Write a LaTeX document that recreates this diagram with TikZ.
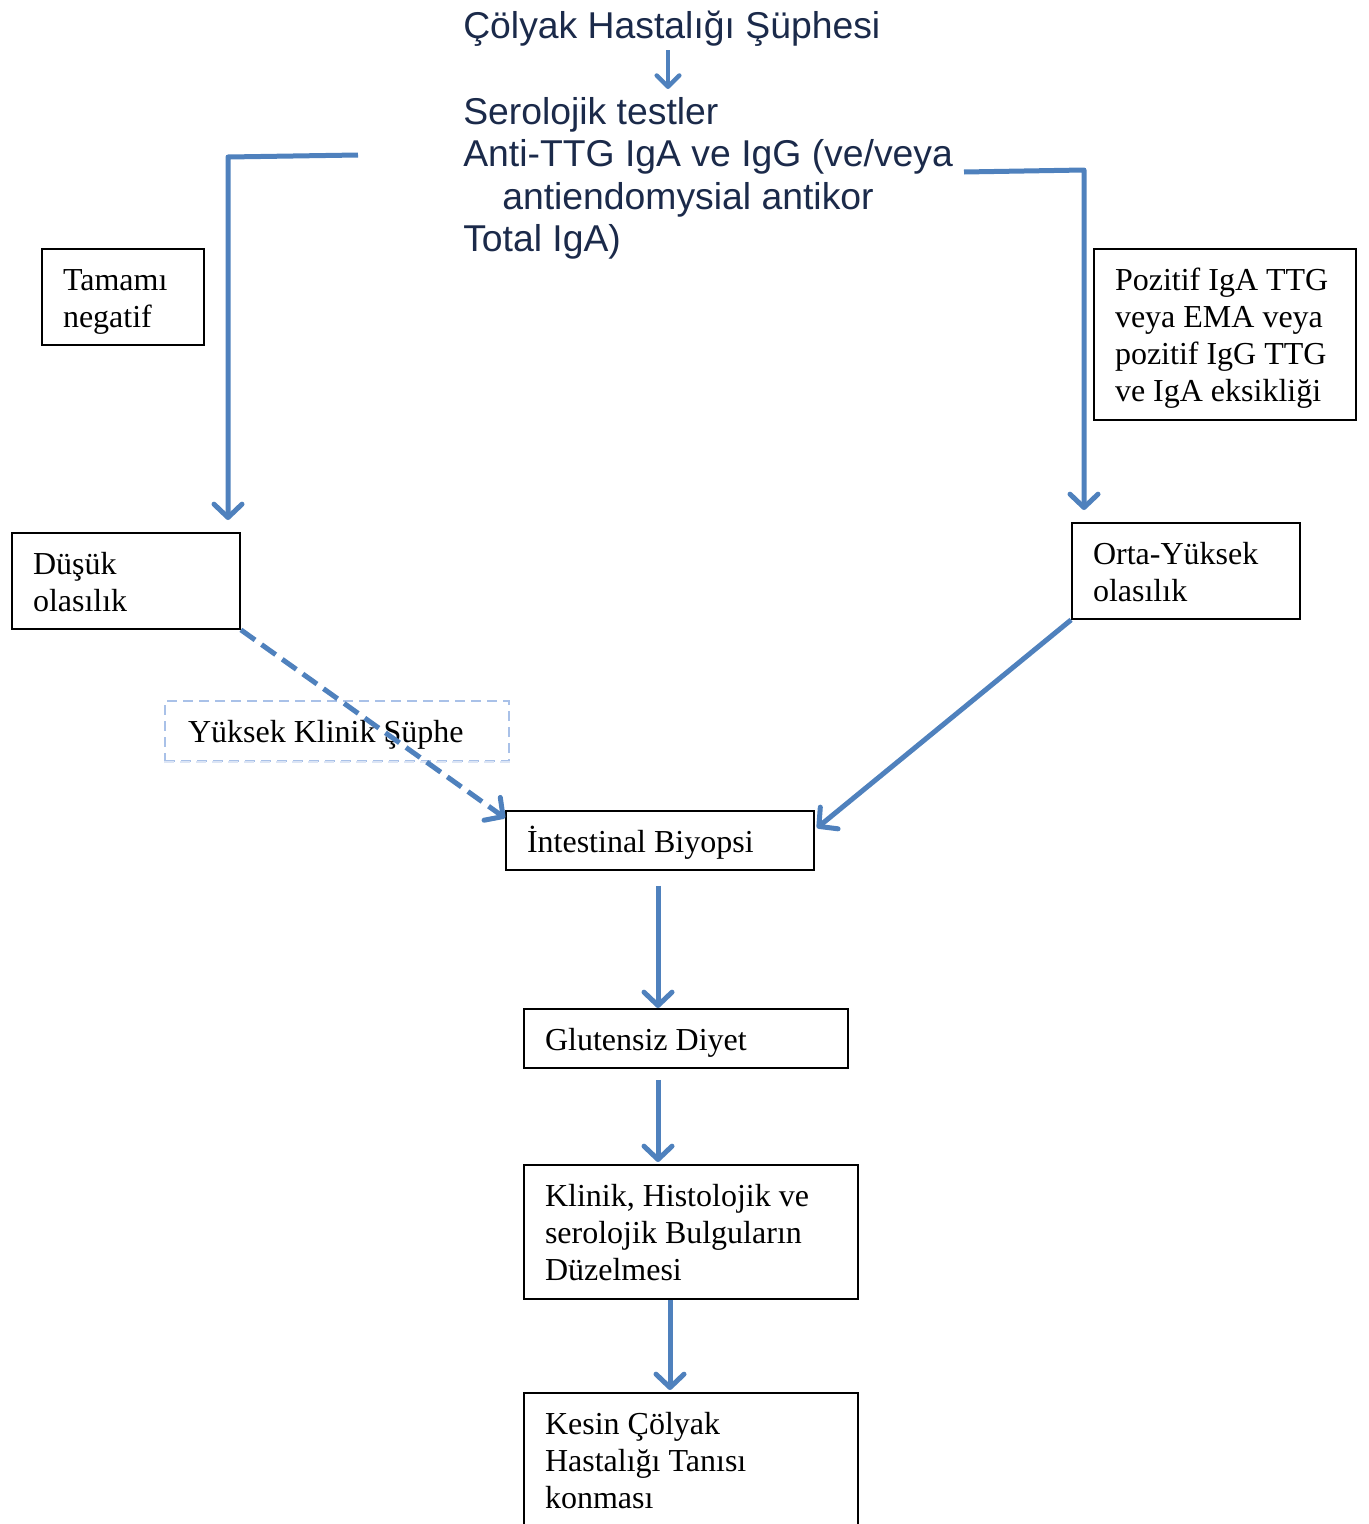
\documentclass[tikz,border=0pt]{standalone}
\usepackage{fontspec}
\setmainfont{Liberation Serif}
\newfontfamily\titlefont{Liberation Sans}
\usetikzlibrary{arrows.meta,calc}
\definecolor{arrowblue}{HTML}{4F81BD}
\definecolor{navy}{HTML}{1B2A4A}
\definecolor{dashblue}{HTML}{A9C1E8}
\definecolor{dashlight}{HTML}{DCE5F5}
\begin{document}
\begin{tikzpicture}[x=0.75pt,y=-0.75pt,
  box/.style={draw=black,line width=1.4pt,rectangle,inner sep=0pt,align=flush left,
    text height=31pt,font=\fontsize{24}{27.75}\selectfont},
  head/.style={inner sep=0pt,text=navy,font=\titlefont\fontsize{28}{31.9}\selectfont},
  flow/.style={draw=arrowblue,line width=3.75pt,line join=round,
    -{Straight Barb[length=10pt,width=21pt,round]}},
  smallflow/.style={draw=arrowblue,line width=3.3pt,
    -{Straight Barb[length=8.5pt,width=17pt,round]}},
  dashflow/.style={flow,dash pattern=on 13pt off 6pt}]
\useasboundingbox (0,0) rectangle (1368,1524);

% heading texts
\node[head,anchor=north west,align=flush left] (title) at (463,11) {Çölyak Hastalığı Şüphesi};
\node[head,anchor=north west,align=flush left] (sero) at (463,97)
  {Serolojik testler\\Anti-TTG IgA ve IgG (ve/veya\\\hspace*{29.25pt}antiendomysial antikor\\Total IgA)};

% boxes (top edge, then text height 31pt from the top)
\node[box,anchor=north,minimum width=121.5pt,text depth=41pt,text width=90pt] (neg) at (123,248) {Tamamı\\negatif};
\node[box,anchor=north,minimum width=196.5pt,text depth=97.25pt,text width=165pt] (pos) at (1225,248)
  {Pozitif IgA TTG\\veya EMA veya\\pozitif IgG TTG\\ve IgA eksikliği};
\node[box,anchor=north,minimum width=171pt,text depth=41pt,text width=139.5pt] (low) at (126,532) {Düşük\\olasılık};
\node[box,anchor=north,minimum width=171pt,text depth=41pt,text width=139.5pt] (mid) at (1186,522) {Orta-Yüksek\\olasılık};
\node[box,anchor=north,draw=dashblue,dash pattern=on 7.5pt off 4.5pt,line width=1.5pt,
  minimum width=258pt,text depth=14pt,text width=223.5pt] (yks) at (337,700) {Yüksek Klinik Şüphe};
\draw[draw=dashlight,line width=1.5pt,dash pattern=on 7.5pt off 4.5pt] (yks.south west) -- (yks.south east);
\node[box,anchor=north,minimum width=231pt,text depth=13.25pt,text width=199.5pt] (biop) at (660,810) {İntestinal Biyopsi};
\node[box,anchor=north,minimum width=243pt,text depth=13.25pt,text width=211.5pt] (diet) at (686,1008) {Glutensiz Diyet};
\node[box,anchor=north,minimum width=250.5pt,text depth=69.5pt,text width=219pt] (clin) at (691,1164)
  {Klinik, Histolojik ve\\serolojik Bulguların\\Düzelmesi};
\node[box,anchor=north,minimum width=250.5pt,text depth=72.5pt,text width=219pt] (final) at (691,1392)
  {Kesin Çölyak\\Hastalığı Tanısı\\konması};

% connectors
\coordinate (t1) at (668,50);
\draw[smallflow] (t1) -- ([yshift=6pt]t1 |- sero.north);

\coordinate (lstart) at (358,155);
\coordinate (lcorner) at (228,157);
\coordinate (lend) at (228,520);
\draw[flow] (lstart) -- (lcorner) -- (lend);

\coordinate (rstart) at (964,172);
\coordinate (rcorner) at (1084,170);
\coordinate (rend) at (1084,510);
\draw[flow] (rstart) -- (rcorner) -- (rend);

\draw[dashflow] (low.south east) -- ([yshift=-6pt]biop.north west);
\draw[flow] (mid.south west) -- ([xshift=1.5pt,yshift=-13.5pt]biop.north east);

\draw[flow] ([xshift=-1.5pt,yshift=-11.25pt]biop.south) coordinate (b1) -- (b1 |- diet.north);
\draw[flow] ([xshift=-21pt,yshift=-8.25pt]diet.south) coordinate (d1) -- ([yshift=1.5pt]d1 |- clin.north);
\draw[flow] ([xshift=-15.75pt]clin.south) coordinate (k1) -- ([yshift=1.5pt]k1 |- final.north);
\end{tikzpicture}
\end{document}
